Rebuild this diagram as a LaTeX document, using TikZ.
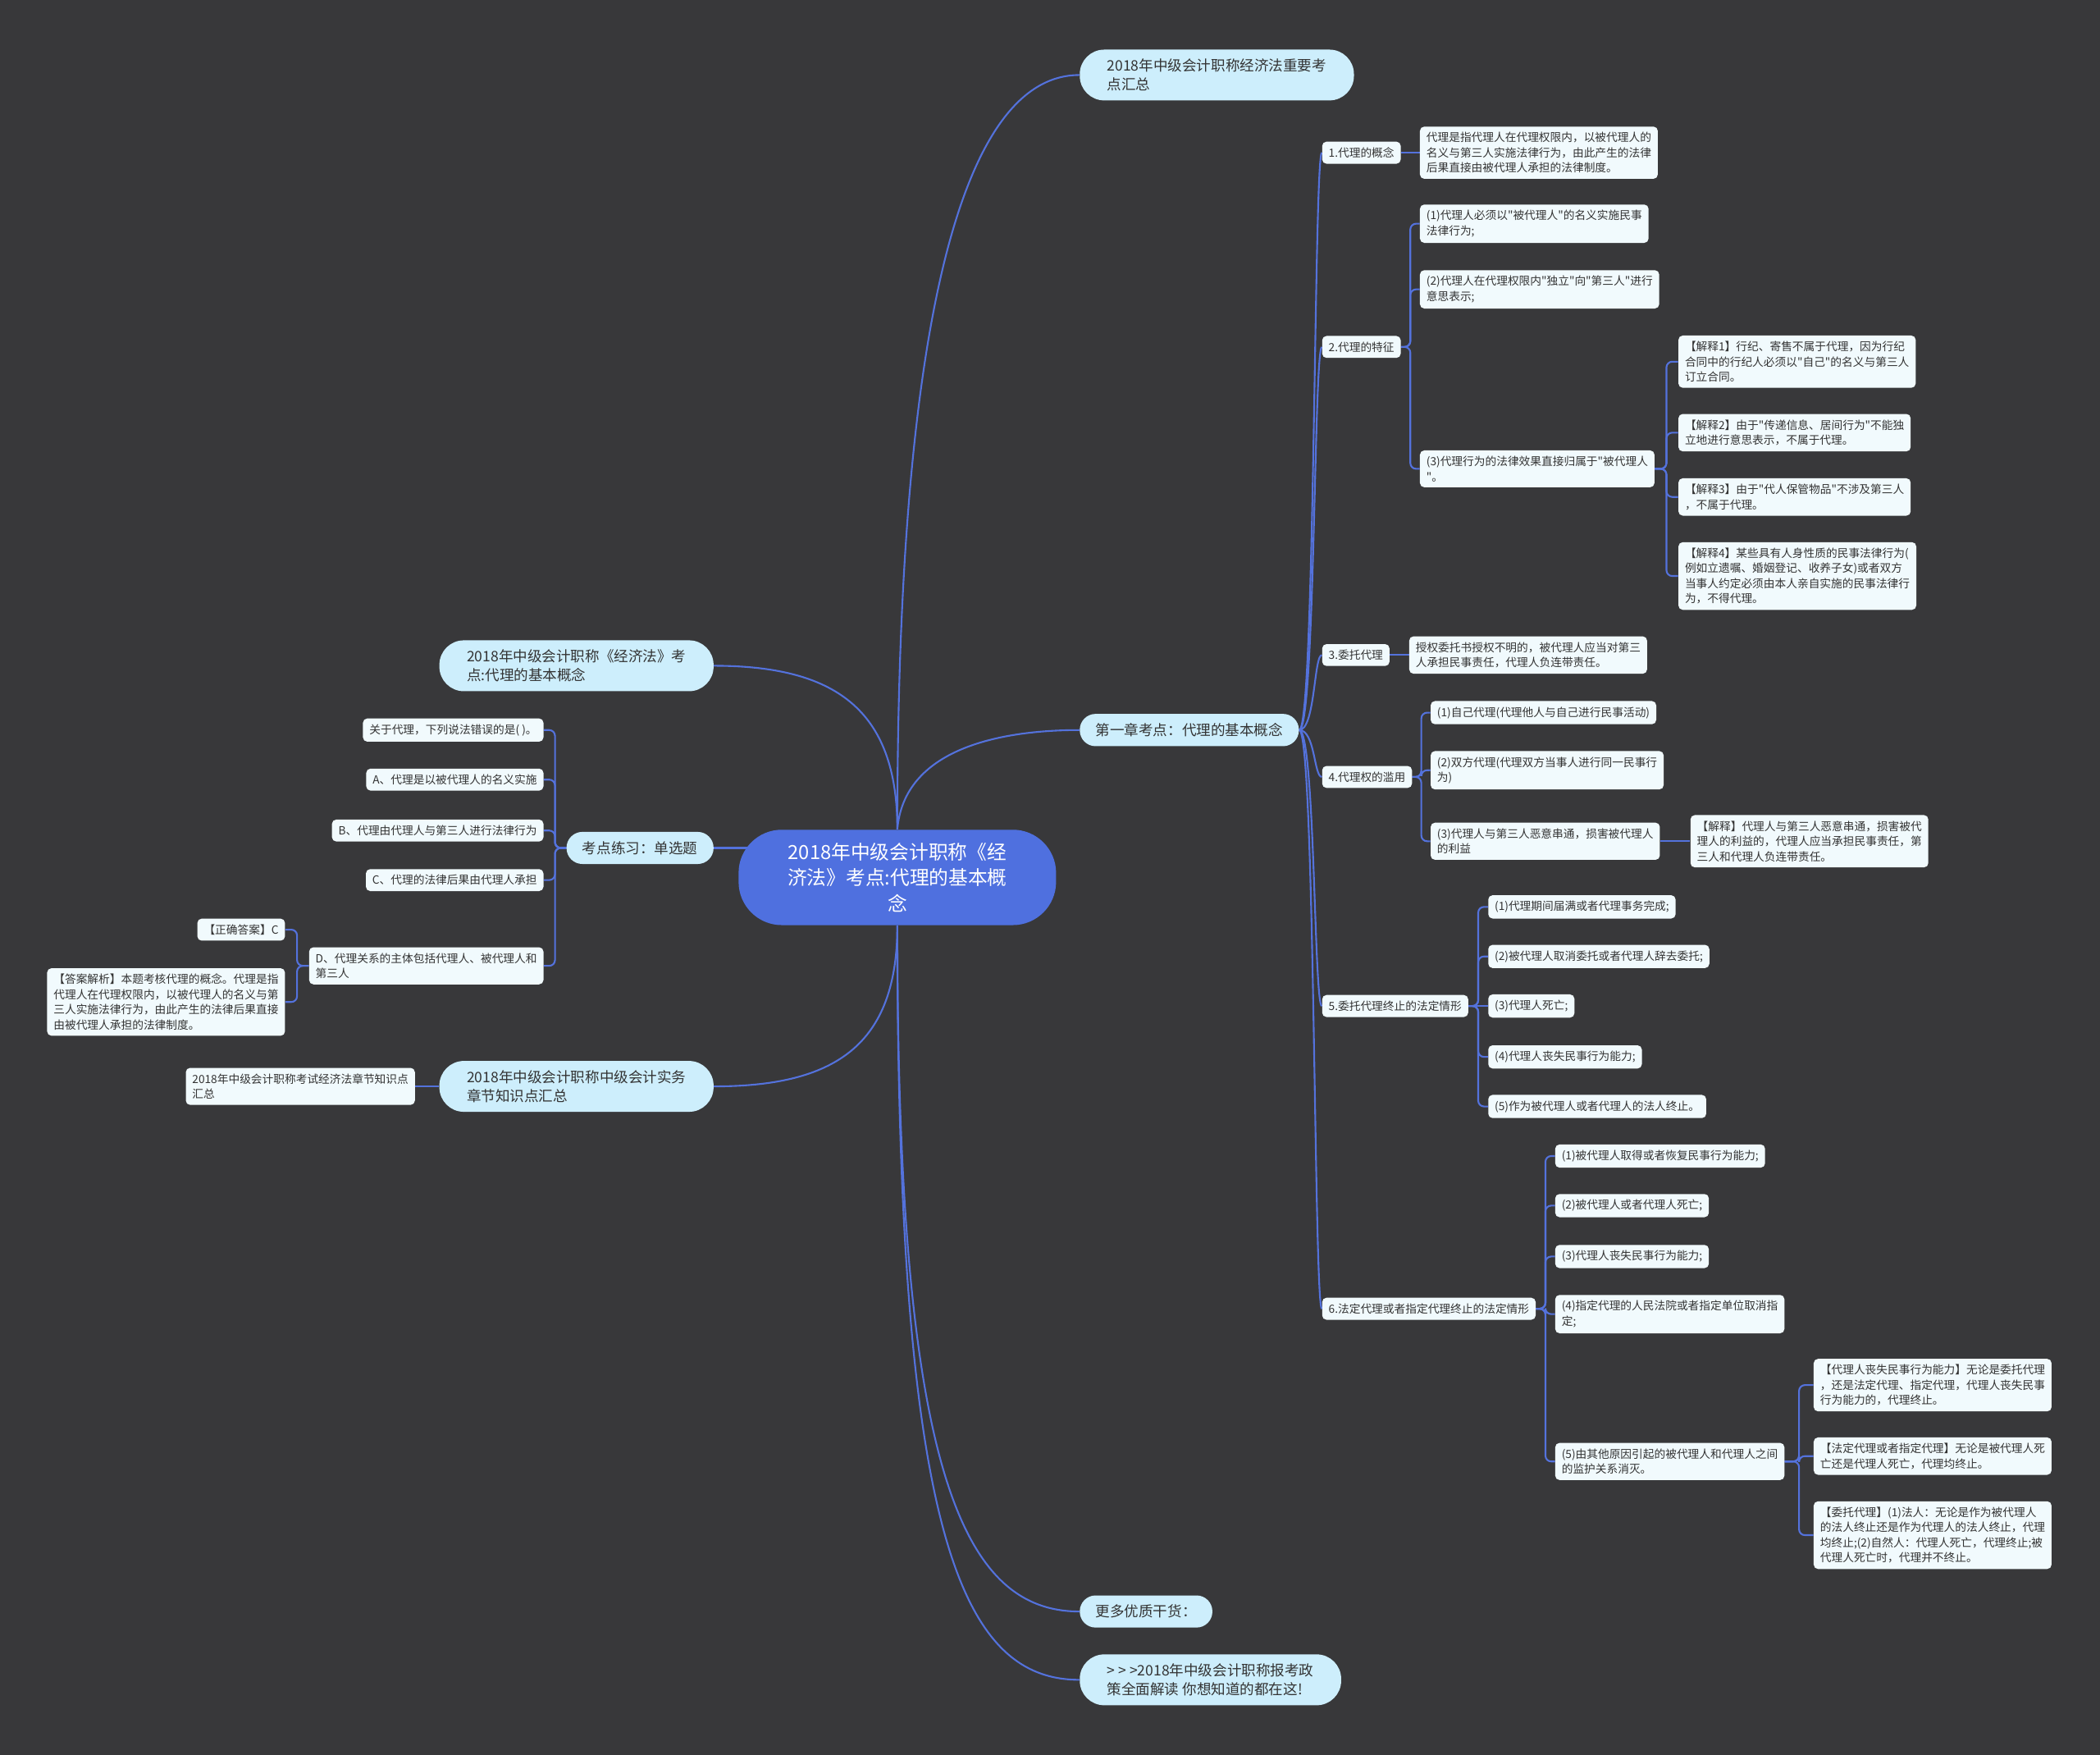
\documentclass[tikz,border=0pt]{standalone}
\usepackage{fontspec}
\newfontfamily\cjk{Noto Sans CJK SC}
\usetikzlibrary{calc,backgrounds}
\definecolor{bg}{HTML}{38383A}
\definecolor{rootblue}{HTML}{4F70DF}
\definecolor{topicblue}{HTML}{CDEEFC}
\definecolor{leafwhite}{HTML}{F1FAFD}
\definecolor{linkblue}{HTML}{5472DC}
\definecolor{ink}{HTML}{333333}

\begin{document}
\begin{tikzpicture}[x=0.03265cm,y=-0.03265cm,
    root/.style={fill=rootblue,text=white,rounded corners=30pt,align=center,inner xsep=34pt,inner ysep=9pt,font=\cjk\fontsize{13.5}{18}\selectfont},
    topic/.style={fill=topicblue,text=ink,rounded corners=11pt,align=left,inner xsep=11pt,inner ysep=6.5pt,font=\cjk\fontsize{10}{13}\selectfont},
    wide topic/.style={topic,rounded corners=17pt,inner xsep=19pt},
    leaf/.style={fill=leafwhite,text=ink,rounded corners=3pt,align=left,inner xsep=4.5pt,inner ysep=4pt,font=\cjk\fontsize{7.8}{10.5}\selectfont},
    link/.style={draw=linkblue,line width=1.2pt},
    curvy/.style={to path={.. controls +(12,0) and +(-6,0) .. (\tikztotarget)}},
    elbow/.style={rounded corners=4pt,to path={-- ($(\tikztostart)!0.5!(\tikztostart -| \tikztotarget)$) |- (\tikztotarget)}}]

  \node[root] (root) at (670,655) {2018年中级会计职称《经\\济法》考点:代理的基本概\\念};

  \node[wide topic,anchor=west] (b1) at (806,56) {2018年中级会计职称经济法重要考\\点汇总};
  \node[topic,anchor=west] (b2) at (806,545) {第一章考点：代理的基本概念};
  \node[topic,anchor=west] (b3) at (806,1203) {更多优质干货：};
  \node[wide topic,anchor=west] (b4) at (806,1254) {> > >2018年中级会计职称报考政\\策全面解读 你想知道的都在这!};

  \node[leaf,anchor=west] (n1) at (987,114) {1.代理的概念};
  \node[leaf,anchor=west] (n2) at (987,259) {2.代理的特征};
  \node[leaf,anchor=west] (n3) at (987,489) {3.委托代理};
  \node[leaf,anchor=west] (n4) at (987,580) {4.代理权的滥用};
  \node[leaf,anchor=west] (n5) at (987,751) {5.委托代理终止的法定情形};
  \node[leaf,anchor=west] (n6) at (987,977) {6.法定代理或者指定代理终止的法定情形};

  \node[leaf,anchor=west] (n1a) at (1060,114) {代理是指代理人在代理权限内，以被代理人的\\名义与第三人实施法律行为，由此产生的法律\\后果直接由被代理人承担的法律制度。};
  \node[leaf,anchor=west] (n2a) at (1060,167) {(1)代理人必须以"被代理人"的名义实施民事\\法律行为;};
  \node[leaf,anchor=west] (n2b) at (1060,216) {(2)代理人在代理权限内"独立"向"第三人"进行\\意思表示;};
  \node[leaf,anchor=west] (n2c) at (1060,350) {(3)代理行为的法律效果直接归属于"被代理人\\"。};
  \node[leaf,anchor=west] (j1) at (1253,270) {【解释1】行纪、寄售不属于代理，因为行纪\\合同中的行纪人必须以"自己"的名义与第三人\\订立合同。};
  \node[leaf,anchor=west] (j2) at (1253,323) {【解释2】由于"传递信息、居间行为"不能独\\立地进行意思表示，不属于代理。};
  \node[leaf,anchor=west] (j3) at (1253,371) {【解释3】由于"代人保管物品"不涉及第三人\\，不属于代理。};
  \node[leaf,anchor=west] (j4) at (1253,430) {【解释4】某些具有人身性质的民事法律行为(\\例如立遗嘱、婚姻登记、收养子女)或者双方\\当事人约定必须由本人亲自实施的民事法律行\\为，不得代理。};
  \node[leaf,anchor=west] (n3a) at (1052,489) {授权委托书授权不明的，被代理人应当对第三\\人承担民事责任，代理人负连带责任。};
  \node[leaf,anchor=west] (n4a) at (1068,532) {(1)自己代理(代理他人与自己进行民事活动)};
  \node[leaf,anchor=west] (n4b) at (1068,575) {(2)双方代理(代理双方当事人进行同一民事行\\为)};
  \node[leaf,anchor=west] (n4c) at (1068,628) {(3)代理人与第三人恶意串通，损害被代理人\\的利益};
  \node[leaf,anchor=west] (n4d) at (1262,628) {【解释】代理人与第三人恶意串通，损害被代\\理人的利益的，代理人应当承担民事责任，第\\三人和代理人负连带责任。};
  \node[leaf,anchor=west] (n5a) at (1111,677) {(1)代理期间届满或者代理事务完成;};
  \node[leaf,anchor=west] (n5b) at (1111,714) {(2)被代理人取消委托或者代理人辞去委托;};
  \node[leaf,anchor=west] (n5c) at (1111,751) {(3)代理人死亡;};
  \node[leaf,anchor=west] (n5d) at (1111,789) {(4)代理人丧失民事行为能力;};
  \node[leaf,anchor=west] (n5e) at (1111,826) {(5)作为被代理人或者代理人的法人终止。};
  \node[leaf,anchor=west] (n6a) at (1161,863) {(1)被代理人取得或者恢复民事行为能力;};
  \node[leaf,anchor=west] (n6b) at (1161,900) {(2)被代理人或者代理人死亡;};
  \node[leaf,anchor=west] (n6c) at (1161,938) {(3)代理人丧失民事行为能力;};
  \node[leaf,anchor=west] (n6d) at (1161,981) {(4)指定代理的人民法院或者指定单位取消指\\定;};
  \node[leaf,anchor=west] (n6e) at (1161,1091) {(5)由其他原因引起的被代理人和代理人之间\\的监护关系消灭。};
  \node[leaf,anchor=west] (k1) at (1354,1034) {【代理人丧失民事行为能力】无论是委托代理\\，还是法定代理、指定代理，代理人丧失民事\\行为能力的，代理终止。};
  \node[leaf,anchor=west] (k2) at (1354,1087) {【法定代理或者指定代理】无论是被代理人死\\亡还是代理人死亡，代理均终止。};
  \node[leaf,anchor=west] (k3) at (1354,1146) {【委托代理】(1)法人：无论是作为被代理人\\的法人终止还是作为代理人的法人终止，代理\\均终止;(2)自然人：代理人死亡，代理终止;被\\代理人死亡时，代理并不终止。};

  \node[wide topic,anchor=east] (l1) at (533,497) {2018年中级会计职称《经济法》考\\点:代理的基本概念};
  \node[topic,anchor=east] (l2) at (533,633) {考点练习：单选题};
  \node[wide topic,anchor=east] (l3) at (533,811) {2018年中级会计职称中级会计实务\\章节知识点汇总};
  \node[leaf,anchor=east] (q0) at (406,545) {关于代理，下列说法错误的是( )。};
  \node[leaf,anchor=east] (qa) at (406,582) {A、代理是以被代理人的名义实施};
  \node[leaf,anchor=east] (qb) at (406,620) {B、代理由代理人与第三人进行法律行为};
  \node[leaf,anchor=east] (qc) at (406,657) {C、代理的法律后果由代理人承担};
  \node[leaf,anchor=east] (qd) at (406,721) {D、代理关系的主体包括代理人、被代理人和\\第三人};
  \node[leaf,anchor=east] (qd1) at (213,694) {【正确答案】C};
  \node[leaf,anchor=east] (qd2) at (213,748) {【答案解析】本题考核代理的概念。代理是指\\代理人在代理权限内，以被代理人的名义与第\\三人实施法律行为，由此产生的法律后果直接\\由被代理人承担的法律制度。};
  \node[leaf,anchor=east] (l3a) at (310,811) {2018年中级会计职称考试经济法章节知识点\\汇总};

  \begin{pgfonlayer}{background}
    \fill[bg] (0,0) rectangle (1568,1310);
    \draw[link] (root.north) .. controls +(0,-370) and +(-90,0) .. (b1.west);
    \draw[link] (root.north) .. controls +(5,-60) and +(-60,0) .. (b2.west);
    \draw[link] (root.south) .. controls +(0,400) and +(-90,0) .. (b3.west);
    \draw[link] (root.south) .. controls +(0,450) and +(-90,0) .. (b4.west);
    \draw[link] (root.north) .. controls +(0,-90) and +(90,0) .. (l1.east);
    \draw[link] (root.south) .. controls +(0,90) and +(90,0) .. (l3.east);
    \draw[link] (l2.east) -- (l2.east -| root);
    \path[link]
      (b2.east) edge[curvy] (n1.west)
      (b2.east) edge[curvy] (n2.west)
      (b2.east) edge[curvy] (n3.west)
      (b2.east) edge[curvy] (n4.west)
      (b2.east) edge[curvy] (n5.west)
      (b2.east) edge[curvy] (n6.west)
      (n1.east) edge (n1a.west)
      (n2.east) edge[elbow] (n2a.west)
      (n2.east) edge[elbow] (n2b.west)
      (n2.east) edge[elbow] (n2c.west)
      (n2c.east) edge[elbow] (j1.west)
      (n2c.east) edge[elbow] (j2.west)
      (n2c.east) edge[elbow] (j3.west)
      (n2c.east) edge[elbow] (j4.west)
      (n3.east) edge (n3a.west)
      (n4.east) edge[elbow] (n4a.west)
      (n4.east) edge[elbow] (n4b.west)
      (n4.east) edge[elbow] (n4c.west)
      (n4c.east) edge (n4d.west)
      (n5.east) edge[elbow] (n5a.west)
      (n5.east) edge[elbow] (n5b.west)
      (n5.east) edge (n5c.west)
      (n5.east) edge[elbow] (n5d.west)
      (n5.east) edge[elbow] (n5e.west)
      (n6.east) edge[elbow] (n6a.west)
      (n6.east) edge[elbow] (n6b.west)
      (n6.east) edge[elbow] (n6c.west)
      (n6.east) edge[elbow] (n6d.west)
      (n6.east) edge[elbow] (n6e.west)
      (n6e.east) edge[elbow] (k1.west)
      (n6e.east) edge[elbow] (k2.west)
      (n6e.east) edge[elbow] (k3.west)
      (l2.west) edge[elbow] (q0.east)
      (l2.west) edge[elbow] (qa.east)
      (l2.west) edge[elbow] (qb.east)
      (l2.west) edge[elbow] (qc.east)
      (l2.west) edge[elbow] (qd.east)
      (qd.west) edge[elbow] (qd1.east)
      (qd.west) edge[elbow] (qd2.east)
      (l3.west) edge (l3a.east);
  \end{pgfonlayer}
\end{tikzpicture}
\end{document}
